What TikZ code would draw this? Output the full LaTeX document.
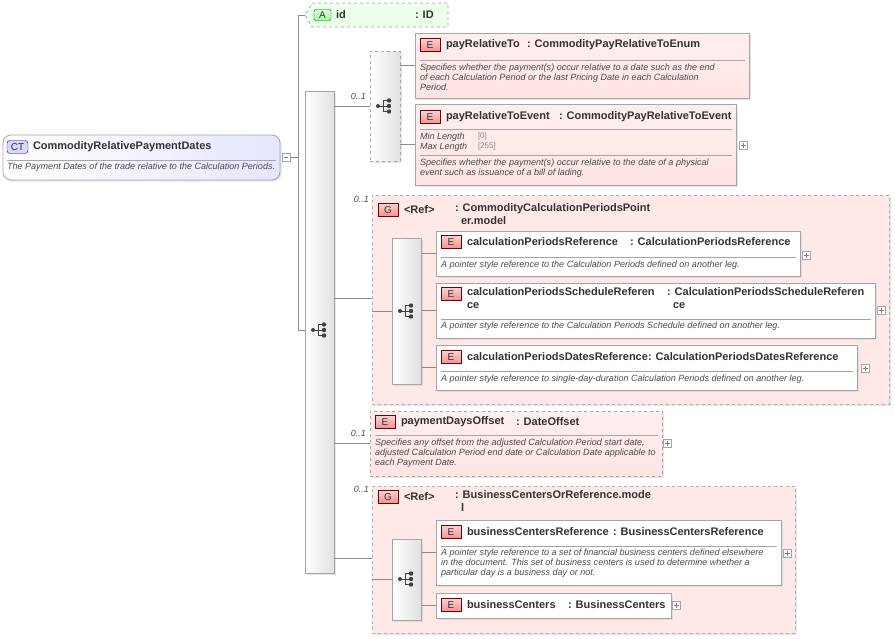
\documentclass[tikz,border=0pt]{standalone}
\usepackage{fontspec}
\setmainfont{Liberation Sans}
\usetikzlibrary{shadows,calc}
\definecolor{ink}{HTML}{333333}
\definecolor{lnk}{HTML}{8C8C8C}
\definecolor{epink}{HTML}{FFE4E4}
\definecolor{gpink}{HTML}{FFE8E8}
\definecolor{bred}{HTML}{F09090}
\begin{document}
\begin{tikzpicture}[x=1pt,y=-1pt,
  every node/.style={inner sep=0pt,outer sep=0pt,text=ink},
  box/.style={anchor=north west,draw=black!35,line width=0.8pt,drop shadow={shadow xshift=1.5pt,shadow yshift=-1.5pt,fill=black!20}},
  elem/.style={box,top color=epink!60,bottom color=epink},
  opt/.style={elem,dashed},
  grp/.style={box,dashed,fill=gpink,draw=black!30},
  seq/.style={box,left color=white,right color=black!12,draw=black!35},
  ttl/.style={anchor=west,font=\bfseries\fontsize{11}{12.5}\selectfont},
  dsc/.style={anchor=north west,font=\itshape\fontsize{9.05}{10}\selectfont,align=left,text=black!70},
  badge/.style={anchor=west,draw=red!45!black,top color=bred!40,bottom color=bred,minimum width=20pt,minimum height=13pt,font=\fontsize{10}{10}\selectfont,line width=0.6pt},
  plus/.style={draw=black!35,fill=white,minimum size=8pt,anchor=west},
  cnt/.style={font=\itshape\fontsize{9}{9}\selectfont,text=black!70},
  ln/.style={draw=lnk,line width=0.6pt},
  sep/.style={draw=black!35,line width=0.5pt}]
\useasboundingbox (0,0) rectangle (895,638);
\newcommand{\seqicon}[1]{%
  \fill[black!75] ($(#1)+(-7,0)$) circle (2);
  \draw[black!75,line width=0.9pt] ($(#1)+(-7,0)$) -- ($(#1)+(-2,0)$) ($(#1)+(-2,-5.5)$) -- ($(#1)+(-2,5.5)$);
  \foreach \yy in {-5.5,0,5.5}{\draw[black!75,line width=0.9pt] ($(#1)+(-2,\yy)$) -- ($(#1)+(3,\yy)$); \fill[black!75] ($(#1)+(4,\yy)$) circle (2.2);}}

% CT
\node[box,rounded corners=8pt,left color=white,right color=blue!10,draw=black!35,minimum width=277pt,minimum height=45pt] (ct) at (3,135) {};
\node[anchor=west,draw=blue!50!black,fill=blue!15,rounded corners=3pt,minimum width=21pt,minimum height=13pt,font=\fontsize{10}{10}\selectfont] (ctb) at (7,147) {CT};
\node[ttl] at (33,147) {CommodityRelativePaymentDates};
\draw[sep] (7,160) -- (276,160);
\node[dsc] at (7,163) {The Payment Dates of the trade relative to the Calculation Periods.};
\node[draw=black!35,fill=white,minimum size=8pt,anchor=west] (mn) at (282,157) {};
\draw[black!50] (284,157) -- (288,157);
\coordinate (tr) at (298,157);
\draw[ln] (mn.east) -- (tr);

% attribute
\node[anchor=north west,inner sep=0,minimum width=1pt] (att) at (305,3) {};
\draw[dashed,draw=black!35,fill=green!8,line width=0.8pt] (312,3) -- (448,3) -- (448,27) -- (312,27) -- (305,15) -- cycle;
\node[anchor=west,draw=green!35!black,top color=green!15,bottom color=green!40,rounded corners=2pt,minimum width=17pt,minimum height=11pt,font=\fontsize{10}{10}\selectfont] (ab) at (314,15) {A};
\node[ttl] at (336,15) {id};
\node[ttl] at (415,15) {: ID};

% main sequence
\node[seq,minimum width=29pt,minimum height=482pt] (ms) at (305,91) {};
\seqicon{320,330}
\draw[ln] (tr) |- (att.west |- 0,15) -- (ab.west -| 305,15);
\draw[ln] (tr) |- (ms.west |- 0,330);

% choice
\node[seq,dashed,minimum width=30pt,minimum height=110pt] (ch) at (370,51) {};
\seqicon{385,106}
\draw[ln] (ms.east |- ch.west) -- (ch.west);
\node[cnt,anchor=east] at (366,96) {0..1};

\node[elem,minimum width=334pt,minimum height=65pt] (pr) at (415,33) {};
\node[badge] at (420,45) {E};
\node[ttl] at (446,45) {payRelativeTo};
\node[ttl] at (527,45) {: CommodityPayRelativeToEnum};
\draw[sep] (420,60) -- (745,60);
\node[dsc] at (420,64) {Specifies whether the payment(s) occur relative to a date such as the end\\of each Calculation Period or the last Pricing Date in each Calculation\\Period.};
\draw[ln] (pr.west -| ch.east) -- (pr.west);

\node[elem,minimum width=321pt,minimum height=81pt] (pe) at (415,104) {};
\node[badge] at (420,117) {E};
\node[ttl] at (446,117) {payRelativeToEvent};
\node[ttl] at (559,117) {: CommodityPayRelativeToEvent};
\draw[sep] (420,129) -- (732,129);
\node[dsc] at (420,133) {Min Length\\Max Length};
\node[dsc,text=black!45,font=\fontsize{8}{10}\selectfont] at (478,133) {[0]\\{}[255]};
\draw[sep] (420,155) -- (732,155);
\node[dsc] at (420,159) {Specifies whether the payment(s) occur relative to the date of a physical\\event such as issuance of a bill of lading.};
\node[plus] (p1) at (739,145) {};
\draw[ln] (pe.west -| ch.east) -- (pe.west);

% group 1
\node[grp,minimum width=517pt,minimum height=209pt] (g1) at (372,195) {};
\node[cnt,anchor=east] at (369,199) {0..1};
\node[badge] at (378,210) {G};
\node[ttl] at (404,210) {<Ref>};
\node[ttl,anchor=north west,align=left] at (455,204) {: CommodityCalculationPeriodsPoint\\\hspace*{6pt}er.model};
\draw[ln] (ms.east |- 0,298) -- (g1.west |- 0,298);
\node[seq,minimum width=29pt,minimum height=146pt] (s1) at (392,238) {};
\seqicon{407,311}
\draw[ln] (g1.west |- s1.west) -- (s1.west);

\node[elem,fill=white,top color=white,bottom color=white,minimum width=364pt,minimum height=45pt] (c1) at (436,231) {};
\node[badge] at (441,242) {E};
\node[ttl] at (467,242) {calculationPeriodsReference};
\node[ttl] at (630,242) {: CalculationPeriodsReference};
\draw[sep] (441,257) -- (796,257);
\node[dsc] at (441,261) {A pointer style reference to the Calculation Periods defined on another leg.};
\node[plus] (p2) at (802,255) {};
\draw[ln] (c1.west -| s1.east) -- (c1.west);

\node[elem,top color=white,bottom color=white,minimum width=439pt,minimum height=55pt] (c2) at (436,283) {};
\node[badge] at (441,294) {E};
\node[ttl,anchor=north west,align=left] at (467,288) {calculationPeriodsScheduleReferen\\ce};
\node[ttl,anchor=north west,align=left] at (667,288) {: CalculationPeriodsScheduleReferen\\\hspace*{6pt}ce};
\draw[sep] (441,319) -- (871,319);
\node[dsc] at (441,322) {A pointer style reference to the Calculation Periods Schedule defined on another leg.};
\node[plus] (p3) at (877,310) {};
\draw[ln] (c2.west -| s1.east) -- (c2.west);

\node[elem,top color=white,bottom color=white,minimum width=421pt,minimum height=45pt] (c3) at (436,345) {};
\node[badge] at (441,357) {E};
\node[ttl] at (467,357) {calculationPeriodsDatesReference};
\node[ttl] at (648,357) {: CalculationPeriodsDatesReference};
\draw[sep] (441,371) -- (853,371);
\node[dsc] at (441,375) {A pointer style reference to single-day-duration Calculation Periods defined on another leg.};
\node[plus] (p4) at (861,368) {};
\draw[ln] (c3.west -| s1.east) -- (c3.west);

% paymentDaysOffset
\node[opt,minimum width=292pt,minimum height=65pt] (pd) at (370,411) {};
\node[badge] at (375,422) {E};
\node[ttl] at (401,422) {paymentDaysOffset};
\node[ttl] at (516,422) {: DateOffset};
\draw[sep] (375,435) -- (658,435);
\node[dsc] at (375,439) {Specifies any offset from the adjusted Calculation Period start date,\\adjusted Calculation Period end date or Calculation Date applicable to\\each Payment Date.};
\node[plus] (p5) at (663,443) {};
\node[cnt,anchor=east] at (366,433) {0..1};
\draw[ln] (ms.east |- pd.west) -- (pd.west);

% group 2
\node[grp,minimum width=423pt,minimum height=147pt] (g2) at (372,486) {};
\node[cnt,anchor=east] at (369,489) {0..1};
\node[badge] at (378,497) {G};
\node[ttl] at (404,497) {<Ref>};
\node[ttl,anchor=north west,align=left] at (455,491) {: BusinessCentersOrReference.mode\\\hspace*{6pt}l};
\draw[ln] (ms.east |- 0,558) -- (g2.west |- 0,558);
\node[seq,minimum width=29pt,minimum height=81pt] (s2) at (392,539) {};
\seqicon{407,579}
\draw[ln] (g2.west |- s2.west) -- (s2.west);

\node[elem,top color=white,bottom color=white,minimum width=345pt,minimum height=65pt] (b1) at (436,520) {};
\node[badge] at (441,532) {E};
\node[ttl] at (467,532) {businessCentersReference};
\node[ttl] at (613,532) {: BusinessCentersReference};
\draw[sep] (441,546) -- (777,546);
\node[dsc] at (441,549) {A pointer style reference to a set of financial business centers defined elsewhere\\in the document. This set of business centers is used to determine whether a\\particular day is a business day or not.};
\node[plus] (p6) at (783,553) {};
\draw[ln] (b1.west -| s2.east) -- (b1.west);

\node[elem,top color=white,bottom color=white,minimum width=235pt,minimum height=25pt] (b2) at (436,593) {};
\node[badge] at (441,605) {E};
\node[ttl] at (467,605) {businessCenters};
\node[ttl] at (568,605) {: BusinessCenters};
\node[plus] (p7) at (672,605) {};
\draw[ln] (b2.west -| s2.east) -- (b2.west);

\foreach \p in {p1,p2,p3,p4,p5,p6,p7}{\draw[black!50] ($(\p.center)+(-2.5,0)$) -- ($(\p.center)+(2.5,0)$) ($(\p.center)+(0,-2.5)$) -- ($(\p.center)+(0,2.5)$);}
\end{tikzpicture}
\end{document}
